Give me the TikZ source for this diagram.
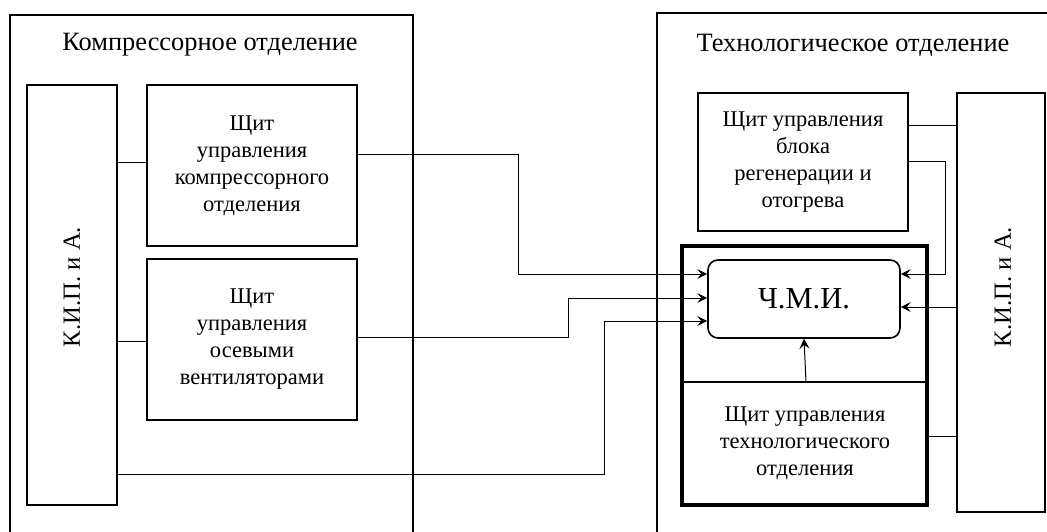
\documentclass[tikz,border=0pt]{standalone}
\usepackage{fontspec}
\setmainfont{Liberation Serif}
\usetikzlibrary{arrows.meta}
\tikzset{
  box/.style={draw, line width=1.8pt, minimum width=#1, inner sep=0pt, align=center},
  conn/.style={line width=1pt},
  arr/.style={line width=1pt, -{Stealth[length=10pt,width=10pt,inset=4pt]}},
  txt/.style={font=\fontsize{22.5}{27}\selectfont},
  ttl/.style={font=\fontsize{26.4}{30}\selectfont},
  kip/.style={font=\fontsize{24.7}{28}\selectfont, rotate=90},
}
\begin{document}
\begin{tikzpicture}[x=1pt,y=-1pt]
\useasboundingbox (0,0) rectangle (1047,532);
% outer departments
\draw[line width=1.6pt] (10,532) -- (10,15) -- (413,15) -- (413,532);
\draw[line width=1.6pt] (657,532) -- (657,13) -- (1047,13);
\node[ttl] (t1) at (210,45) {Компрессорное отделение};
\node[ttl] (t2) at (853,45) {Технологическое отделение};
% left side
\node[box=90pt, minimum height=420pt] (kipL) at (72,295) {};
\node[kip] (kl) at (72,287) {К.И.П. и А.};
\node[box=210pt, minimum height=161pt, txt] (b1) at (252,165.5) {Щит\\управления\\компрессорного\\отделения};
\node[box=210pt, minimum height=161pt, txt] (b2) at (252,339.5) {Щит\\управления\\осевыми\\вентиляторами};
% right side
\node[box=210pt, minimum height=138pt, txt] (reg) at (803,162) {Щит управления\\блока\\регенерации и\\отогрева};
\node[box=88pt, minimum height=419pt] (kipR) at (1001,302.5) {};
\node[kip] (kr) at (1003,287) {К.И.П. и А.};
\node[draw, line width=4pt, minimum width=245pt, minimum height=259pt, inner sep=0pt] (tb) at (804.5,375.5) {};
\node[txt, align=center] (tech) at (805,443) {Щит управления\\технологического\\отделения};
\node[draw, line width=1.6pt, rounded corners=10pt, minimum width=192pt, minimum height=78pt, font=\fontsize{30.5}{34}\selectfont] (chmi) at (804,299) {Ч.М.И.};
\coordinate (dv) at (806,382);
\draw[line width=1.6pt] (tb.west |- dv) -- (tb.east |- dv);
% connectors left
\draw[conn] (kipL.east |- 0,163) -- (b1.west |- 0,163);
\draw[conn] (kipL.east |- 0,341) -- (b2.west |- 0,341);
\draw[arr] (b1.east |- 0,155) -- (518,155) -- (518,274) -- (chmi.west |- 0,274);
\draw[arr] (b2.east |- 0,337) -- (568,337) -- (568,298) -- (chmi.west |- 0,298);
\draw[arr] (kipL.east |- 0,474) -- (604,474) -- (604,321) -- (chmi.west |- 0,321);
% connectors right
\draw[conn] (reg.east |- 0,126) -- (kipR.west |- 0,126);
\draw[arr] (reg.east |- 0,162) -- (945,162) -- (945,274) -- (chmi.east |- 0,274);
\draw[arr] (kipR.west |- 0,307) -- (chmi.east |- 0,307);
\draw[arr] (dv) -- (chmi.south);
\draw[conn] (tb.east |- 0,436) -- (kipR.west |- 0,436);
\end{tikzpicture}
\end{document}
